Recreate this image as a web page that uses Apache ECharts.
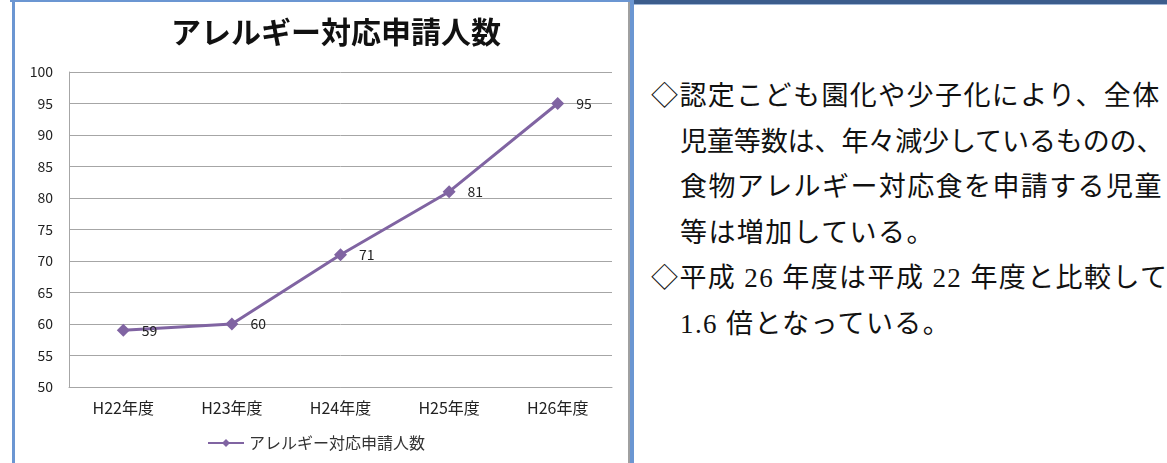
<!DOCTYPE html>
<html><head><meta charset="utf-8">
<script src="https://cdn.jsdelivr.net/npm/echarts@6/dist/echarts.min.js"></script>
<style>
html,body{margin:0;padding:0;background:#fff;}
#wrap{position:relative;width:1167px;height:463px;overflow:hidden;background:#fff;}
#chart{position:absolute;left:0;top:0;width:632px;height:463px;}
.b{position:absolute;}
#txt{position:absolute;left:651px;top:74px;font-family:"Liberation Serif","Noto Sans CJK JP",serif;font-size:27px;line-height:45.5px;color:#111;white-space:nowrap;letter-spacing:1.4px;}
#txt .in{padding-left:29px;}
#txt .tight{letter-spacing:-0.1px;}
</style></head>
<body><div id="wrap">
<div id="chart"></div>
<div class="b" style="left:12px;top:0;width:3px;height:463px;background:#6b96d2;"></div>
<div class="b" style="left:10px;top:0;width:622px;height:2px;background:#6b96d2;"></div>
<div class="b" style="left:628px;top:2px;width:2px;height:461px;background:#a0a0a0;"></div>
<div class="b" style="left:630px;top:0;width:4px;height:463px;background:#6b96d2;"></div>
<div class="b" style="left:634px;top:0;width:533px;height:4px;background:#3c5d8c;"></div>
<div class="b" style="left:634px;top:4px;width:533px;height:1px;background:#9fb6d6;"></div>
<div id="txt">
<div>◇認定こども園化や少子化により、全体</div>
<div class="in tight">児童等数は、年々減少しているものの、</div>
<div class="in">食物アレルギー対応食を申請する児童</div>
<div class="in">等は増加している。</div>
<div>◇平成 26 年度は平成 22 年度と比較して</div>
<div class="in">1.6 倍となっている。</div>
</div>
</div>
<script>
const chartTitle = 'アレルギー対応申請人数';
const seriesName = 'アレルギー対応申請人数';
const categories = ['H22年度','H23年度','H24年度','H25年度','H26年度'];
const values = [59, 60, 71, 81, 95];
const yMin = 50, yMax = 100, yStep = 5;

const ch = echarts.init(document.getElementById('chart'));
const font = '"Noto Sans CJK JP","Noto Sans",sans-serif';
ch.setOption({
  animation:false,
  title:{text:chartTitle,left:331,top:12,textAlign:'center',
    textStyle:{fontFamily:font,fontSize:30,fontWeight:'bold',color:'#111'}},
  legend:{data:[seriesName],left:'center',top:430,itemWidth:36,itemHeight:10,itemGap:12,
    textStyle:{fontFamily:font,fontSize:16,color:'#333'}},
  grid:{left:69,right:20,top:72,bottom:76},
  xAxis:{type:'category',data:categories,
    axisLine:{lineStyle:{color:'#a6a6a6',width:1}},axisTick:{show:false},
    axisLabel:{fontFamily:font,fontSize:16,color:'#222',margin:13}},
  yAxis:{type:'value',min:yMin,max:yMax,interval:yStep,
    axisLine:{show:true,lineStyle:{color:'#a6a6a6'}},axisTick:{show:false},
    splitLine:{lineStyle:{color:'#a6a6a6'}},
    axisLabel:{fontFamily:font,fontSize:14,color:'#222',margin:16}},
  series:[{name:seriesName,type:'line',data:values,symbol:'diamond',symbolSize:13,
    lineStyle:{color:'#8064a2',width:3},itemStyle:{color:'#8064a2'},
    label:{show:true,position:'right',distance:12,fontFamily:font,fontSize:14,color:'#222'}}]
});
</script>
</body></html>
